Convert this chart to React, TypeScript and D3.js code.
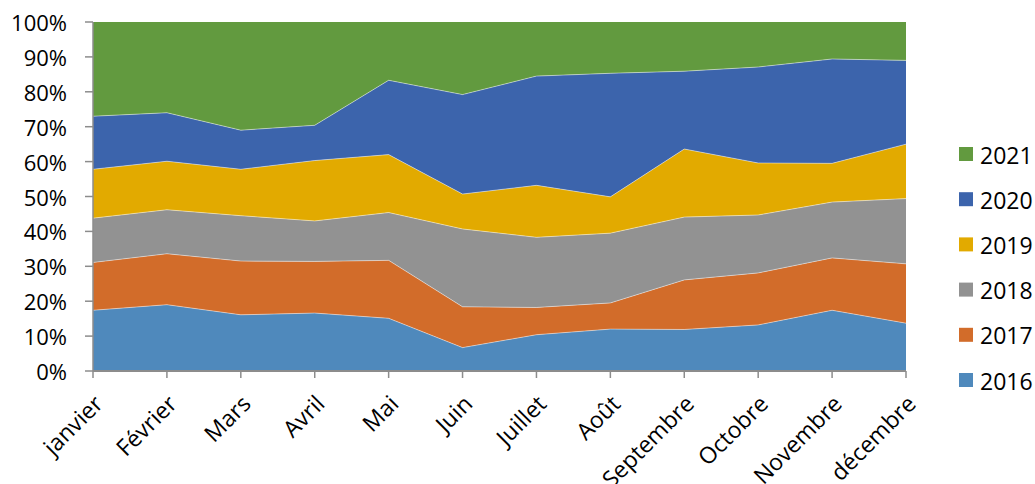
import React from "react";
import * as d3 from "d3";

const months = ["janvier", "Février", "Mars", "Avril", "Mai", "Juin", "Juillet", "Août", "Septembre", "Octobre", "Novembre", "décembre"];
const years = ["2016", "2017", "2018", "2019", "2020", "2021"];
const v2016 = [17.4, 19.0, 16.1, 16.6, 15.1, 6.7, 10.4, 12.0, 11.9, 13.2, 17.4, 13.7];
const v2017 = [13.7, 14.6, 15.4, 14.8, 16.6, 11.7, 7.8, 7.5, 14.2, 14.9, 15.0, 17.0];
const v2018 = [12.7, 12.6, 13.0, 11.6, 13.7, 22.3, 20.1, 20.0, 18.0, 16.6, 16.0, 18.7];
const v2019 = [14.0, 13.9, 13.3, 17.3, 16.6, 10.0, 14.9, 10.4, 19.5, 14.9, 11.1, 15.6];
const v2020 = [15.2, 13.9, 11.2, 10.1, 21.3, 28.5, 31.3, 35.4, 22.3, 27.5, 29.9, 24.0];
const v2021 = [27.0, 26.0, 31.0, 29.6, 16.7, 20.8, 15.5, 14.7, 14.1, 12.9, 10.6, 11.0];
const seriesValues = [v2016, v2017, v2018, v2019, v2020, v2021];
const colors = ["#4F89BC", "#D26C2A", "#929292", "#E2AA00", "#3C64AC", "#629A3F"];
const yTicks = [0, 0.1, 0.2, 0.3, 0.4, 0.5, 0.6, 0.7, 0.8, 0.9, 1];

const W = 1035, H = 484;
const X0 = 93, X1 = 906, Y0 = 371, Y1 = 22;
const FONT = "'Open Sans', sans-serif";

export default function App() {
  const rows = months.map((m, i) => {
    const r: any = { month: m };
    years.forEach((y, k) => (r[y] = seriesValues[k][i]));
    return r;
  });
  const stacked = d3.stack<any>().keys(years).offset(d3.stackOffsetExpand).order(d3.stackOrderNone)(rows);
  const x = d3.scalePoint<string>().domain(months).range([X0, X1]);
  const y = d3.scaleLinear().domain([0, 1]).range([Y0, Y1]);
  const area = d3.area<any>().x((d) => x(d.data.month)!).y0((d) => y(d[0])).y1((d) => y(d[1]));
  const line = d3.line<any>().x((d) => x(d.data.month)!).y((d) => y(d[1]));

  return (
    <svg width={W} height={H} style={{ position: "absolute", left: 0, top: 0 }}>
      <rect width={W} height={H} fill="#fff" />
      {stacked.map((s, k) => (
        <path key={years[k]} d={area(s)!} fill={colors[k]} />
      ))}
      {stacked.slice(0, -1).map((s, k) => (
        <path key={"l" + years[k]} d={line(s)!} fill="none" stroke="#fff" strokeOpacity={0.45} strokeWidth={1} />
      ))}
      <line x1={X0} x2={X0} y1={Y1} y2={Y0} stroke="#8c8c8c" strokeWidth={1.5} />
      {yTicks.map((t) => (
        <g key={t}>
          <line x1={X0 - 8} x2={X0} y1={y(t)} y2={y(t)} stroke="#8c8c8c" strokeWidth={1.5} />
          <text x={67} y={y(t)} textAnchor="end" dominantBaseline="central" fontFamily={FONT} fontSize={22} fill="#000">
            {d3.format(".0%")(t)}
          </text>
        </g>
      ))}
      <line x1={X0} x2={X1} y1={Y0} y2={Y0} stroke="#8c8c8c" strokeWidth={2} />
      {months.map((m) => (
        <g key={m}>
          <line x1={x(m)} x2={x(m)} y1={Y0} y2={Y0 + 7} stroke="#8c8c8c" strokeWidth={1.5} />
          <text
            transform={`translate(${x(m)! + 5},${Y0 + 28}) rotate(-45)`}
            textAnchor="end"
            dominantBaseline="central"
            fontFamily={FONT}
            fontSize={23}
            fill="#000"
          >
            {m}
          </text>
        </g>
      ))}
      {years
        .map((yr, k) => ({ yr, k }))
        .reverse()
        .map(({ yr, k }, i) => (
          <g key={yr} transform={`translate(959,${147 + i * 45.2})`}>
            <rect width={14} height={14} fill={colors[k]} />
            <text x={21} y={7.5} dominantBaseline="central" fontFamily={FONT} fontSize={23} fill="#000">
              {yr}
            </text>
          </g>
        ))}
    </svg>
  );
}
